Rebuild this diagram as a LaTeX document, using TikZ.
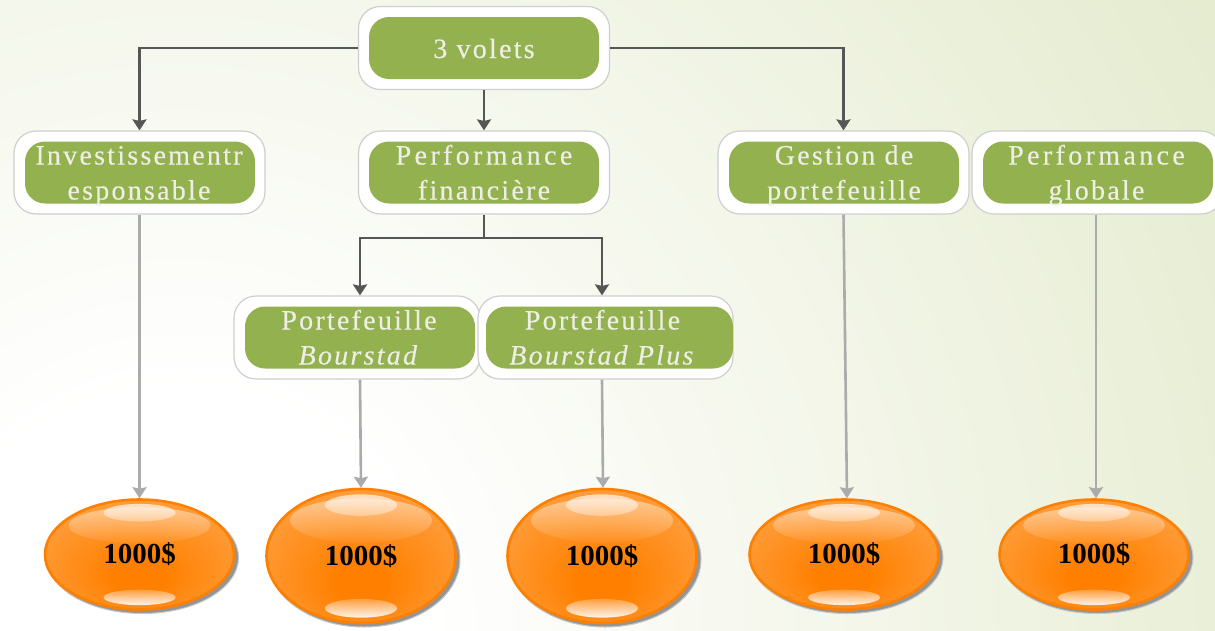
\documentclass[tikz,border=0pt]{standalone}
\usepackage{fontspec}
\setmainfont{Liberation Serif}
\newfontfamily\boxfont[LetterSpace=8,FakeBold=0.35]{Liberation Serif}
\newfontfamily\boxwide[LetterSpace=12,FakeBold=0.35]{Liberation Serif}
\usetikzlibrary{arrows.meta,fadings,calc,shapes.geometric}
\definecolor{bgout}{HTML}{DFE7C4}
\definecolor{boxgreen}{HTML}{93B14E}
\definecolor{rimgray}{HTML}{CFCFCF}
\definecolor{darkline}{HTML}{565656}
\definecolor{lightline}{HTML}{ABABAB}
\definecolor{orbmid}{HTML}{FF8000}
\definecolor{orbedge}{HTML}{FFAA55}
\definecolor{labeltext}{HTML}{EDEEE4}
\pgfdeclareradialshading{bgglow}{\pgfpoint{0bp}{0bp}}{color(0bp)=(white);color(4bp)=(white);color(24bp)=(bgout);color(50bp)=(bgout)}
\pgfdeclareradialshading{orbshade}{\pgfpoint{0bp}{-12bp}}{color(0bp)=(orbmid);color(7bp)=(orbmid);color(40bp)=(orbedge);color(50bp)=(orbedge)}
\tikzfading[name=fadedown,top color=transparent!55,bottom color=transparent!95]
\tikzfading[name=fadeup,bottom color=transparent!10,top color=transparent!75]
\tikzfading[name=fadetop,top color=transparent!30,bottom color=transparent!70]
\newcommand{\ls}{\rule[-7pt]{0pt}{35pt}}
\tikzset{
  rimbox/.style={draw=rimgray,line width=1.2pt,fill=white,rounded corners=22pt,inner sep=0pt,minimum height=83pt},
  greenbox/.style={fill=boxgreen,rounded corners=20pt,inner sep=0pt,minimum width=230pt,minimum height=62pt},
  boxlabel/.style={inner sep=0pt,text=labeltext,align=center,font=\boxfont\fontsize{28}{35}\selectfont},
  orb/.style={ellipse,draw=orbmid,line width=2.6pt,shading=orbshade,inner sep=0pt,minimum width=189pt,
    font=\bfseries\fontsize{29}{32}\selectfont,text=black},
  orbshadow/.style={fill=black!42,draw=black!22,line width=1pt},
  darkarrow/.style={draw=darkline,line width=2.4pt,-{Stealth[length=11pt,width=14pt,inset=1.5pt]}},
  lightarrow/.style={draw=lightline,line width=2.6pt,-{Stealth[length=11pt,width=14pt,inset=1.5pt]}},
  trunk/.style={draw=darkline,line width=2.4pt},
}
\newcommand{\glossyorb}[4]{% name, x, y, half height
  \fill[orbshadow] (#2+3,#3+3) ellipse [x radius=96pt,y radius={(#4+1)*1pt}];
  \node[orb,minimum height={2*#4*1pt}] (#1) at (#2,#3) {\raisebox{-2pt}{1000\$}};
  \fill[white,path fading=fadedown] (#2,{#3-#4*0.53}) ellipse [x radius=71pt,y radius={#4*0.33*1pt}];
  \fill[white,path fading=fadetop] (#2,{#3-#4*0.76}) ellipse [x radius=36pt,y radius={#4*0.16*1pt}];
  \fill[white,path fading=fadeup] (#2,{#3+#4*0.78}) ellipse [x radius=36pt,y radius={#4*0.14*1pt}];
}
\begin{document}
\begin{tikzpicture}[x=1pt,y=-1pt]
\useasboundingbox (0,0) rectangle (1215,630);
\begin{scope}
\clip (0,0) rectangle (1215,630);
\fill[bgout] (0,0) rectangle (1215,630);
\shade[shading=bgglow] (180,630) circle [radius=1500pt];

\node[rimbox,minimum width=251pt] (topr) at (484,48) {};
\node[greenbox] (top) at (484,48) {};
\node[boxlabel] (topt) at (484,47.5) {\ls 3 volets};
\node[rimbox,minimum width=251pt] (invr) at (139.5,172.5) {};
\node[greenbox] (inv) at (140,172.5) {};
\node[boxlabel] (invt) at (139,171.5) {\ls Investissementr\\\ls esponsable};
\node[rimbox,minimum width=251pt] (perfr) at (484,172.5) {};
\node[greenbox] (perf) at (484,172.5) {};
\node[boxlabel] (perft) at (484,171.5) {\ls{\boxwide Performance}\\\ls financière};
\node[rimbox,minimum width=251pt] (gestr) at (843.5,172.5) {};
\node[greenbox] (gest) at (844,172.5) {};
\node[boxlabel] (gestt) at (844,171.5) {\ls Gestion de\\\ls portefeuille};
\node[rimbox,minimum width=251pt] (globr) at (1097.5,172.5) {};
\node[greenbox] (glob) at (1098,172.5) {};
\node[boxlabel] (globt) at (1096.5,171.5) {\ls{\boxwide Performance}\\\ls globale};
\node[rimbox,minimum width=246pt] (pfar) at (357,337.5) {};
\node[greenbox] (pfa) at (360,337.5) {};
\node[boxlabel] (pfat) at (359,336.5) {\ls Portefeuille\\\ls\textit{Bourstad}};
\node[rimbox,minimum width=255pt] (pfbr) at (605.5,337.5) {};
\node[greenbox,minimum width=247pt] (pfb) at (609.5,337.5) {};
\node[boxlabel] (pfbt) at (602.5,336.5) {\ls Portefeuille\\\ls\textit{Bourstad Plus}};

\glossyorb{oa}{139.5}{554.5}{55}
\glossyorb{ob}{361}{556}{67}
\glossyorb{oc}{602}{556}{67}
\glossyorb{od}{844}{554.5}{55}
\glossyorb{oe}{1094}{554.5}{55}

\draw[darkarrow] (topr.west) -| (invr.north);
\draw[darkarrow] (topr.east) -| (gestr.north);
\draw[darkarrow] (topr.south) -- (perfr.north);
\coordinate (fork) at (484,238);
\draw[trunk] (perfr.south) -- (fork);
\draw[darkarrow] (fork) -| ([xshift=3pt]pfar.north);
\draw[darkarrow] (fork) -| ([xshift=-3.5pt]pfbr.north);

\draw[lightarrow] (invr.south) -- (oa.north);
\draw[lightarrow] ([xshift=3pt]pfar.south) -- (ob.north);
\draw[lightarrow] ([xshift=-3.5pt]pfbr.south) -- ([xshift=1pt]oc.north);
\draw[lightarrow] (gestr.south) -- ([xshift=3pt]od.north);
\draw[lightarrow] ([xshift=-1.5pt]globr.south) -- ([xshift=2pt]oe.north);
\end{scope}
\end{tikzpicture}
\end{document}
